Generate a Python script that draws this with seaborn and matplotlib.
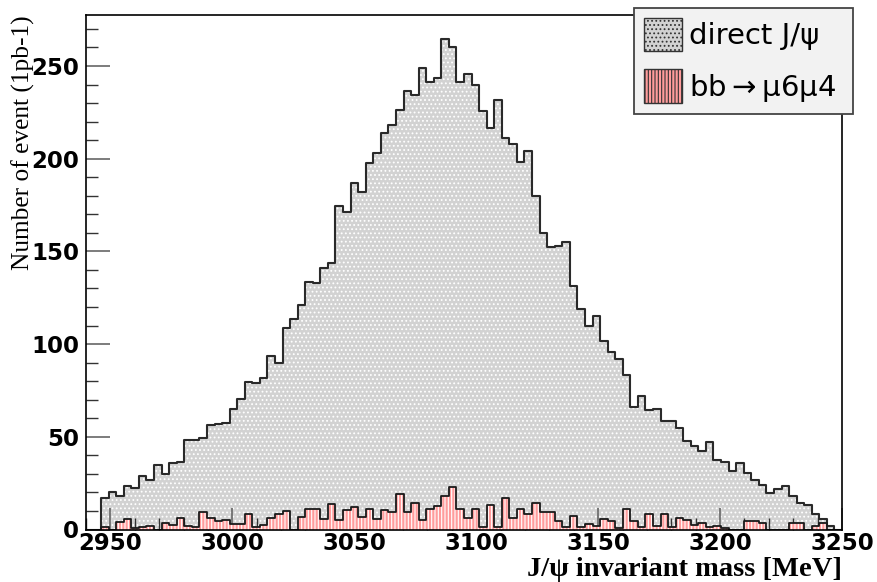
import numpy as np
import pandas as pd
import matplotlib
matplotlib.use("Agg")
import matplotlib.pyplot as plt
from matplotlib.patches import Patch
from matplotlib.ticker import MultipleLocator
import seaborn as sns

# ---------------- data ----------------
x_min, x_max, n_bins = 2940.0, 3250.0, 100

direct_jpsi = [
    0, 0, 17, 20, 18, 23.4, 22.2, 28.8, 26.7, 34.8,
    29.9, 35.7, 36.6, 48.2, 48.2, 49.2, 56.2, 56.7, 57.2, 64.8,
    70.2, 79.7, 78.8, 81.8, 93.7, 89.9, 108.5, 113.3, 120.9, 133.4,
    132.7, 141.1, 143.8, 174.7, 171.2, 187, 182.1, 197.7, 203.3, 214.1,
    218.4, 226.1, 236.4, 234.6, 249, 241.2, 243.6, 264.3, 260, 241.2,
    245.8, 239.6, 225.6, 216.3, 231.4, 210.9, 207.7, 198, 204.4, 179.8,
    159.7, 152.5, 153, 155, 131.3, 118.9, 110, 114.9, 101.4, 95.7,
    92.1, 83.3, 66.2, 72.1, 64.4, 64.8, 58.7, 58.7, 54.7, 47.7,
    45, 42.5, 47.3, 37.5, 36.6, 31.5, 36, 30.6, 26.7, 24,
    19.5, 22, 23.4, 18.2, 14.1, 13.4, 8.2, 5.5, 1.9, 0,
]

bb_mu6mu4 = [
    0, 0, 1.2, 0, 4, 5.7, 1, 1.5, 2, 0,
    3.7, 2.6, 6.4, 2, 1.2, 9.3, 6.4, 4.8, 5.1, 3.1,
    3, 8.2, 1.5, 2.4, 6.4, 8.4, 10.2, 0, 6.9, 11,
    11, 5.7, 13.9, 4.9, 10.3, 12, 6.6, 11, 5.7, 10.5,
    9.6, 19.3, 9.3, 14.1, 5.1, 11, 12.5, 18.2, 22.9, 10.9,
    6.4, 11, 1.5, 13.2, 1.5, 16.8, 6, 11, 8.4, 14.1,
    9.3, 9.3, 4.6, 1.5, 7.3, 1.5, 2.8, 1.9, 5.5, 4.8,
    1, 11, 4.6, 1.2, 8.2, 2.1, 8.2, 1.5, 6.4, 5.1,
    2.4, 3.7, 1.2, 1.9, 1, 0, 0, 4.6, 4.6, 3.3,
    0, 0, 0, 3.7, 3.7, 0, 1.9, 3.3, 0, 0,
]

x_ticks = [2950, 3000, 3050, 3100, 3150, 3200, 3250]
y_ticks = [0, 50, 100, 150, 200, 250]
legend_labels = ["direct J/\u03c8", "bb$\\rightarrow$\u03bc6\u03bc4"]
x_label = "J/\u03c8 invariant mass [MeV]"
y_label = "Number of event (1pb-1)"

edges = [float(e) for e in np.linspace(x_min, x_max, n_bins + 1)]
centers = [0.5 * (a + b) for a, b in zip(edges[:-1], edges[1:])]
df = pd.DataFrame({"mass": centers, "direct": direct_jpsi, "bb": bb_mu6mu4})

# ---------------- style ----------------
sns.set_theme(style="white")
plt.rcParams["font.family"] = ["DejaVu Sans"]
plt.rcParams["mathtext.fontset"] = "dejavusans"
plt.rcParams["hatch.linewidth"] = 0.8

fig = plt.figure(figsize=(8.78, 5.82), dpi=100)
ax = fig.add_axes([86 / 878, 1 - 529.5 / 582, 756 / 878, 514.5 / 582])
ax.set_facecolor("white")
ax.set_axisbelow(True)

gray_face = "#d2d2d2"
gray_hatch = "#333333"
red_face = "#ff9c9c"
red_hatch = "#e81010"

# gray (direct J/psi) fill with dot pattern
plt.rcParams["hatch.color"] = gray_hatch
sns.histplot(data=df, x="mass", weights="direct", bins=edges, element="step",
             fill=True, facecolor=gray_face, edgecolor="none", hatch="....",
             linewidth=0, alpha=1, ax=ax, zorder=0.3)
sns.histplot(data=df, x="mass", weights="direct", bins=edges, element="step",
             fill=False, color="#2a2a2a", linewidth=1.5, ax=ax, zorder=2)

# red (bb -> mu6 mu4) fill with line pattern
plt.rcParams["hatch.color"] = red_hatch
sns.histplot(data=df, x="mass", weights="bb", bins=edges, element="step",
             fill=True, facecolor=red_face, edgecolor="none", hatch="|||||",
             linewidth=0, alpha=1, ax=ax, zorder=1.2)
sns.histplot(data=df, x="mass", weights="bb", bins=edges, element="step",
             fill=False, color="#1a1a1a", linewidth=1.3, ax=ax, zorder=2.1)

# ---------------- axes ----------------
ax.set_xlim(x_min, x_max)
ax.set_ylim(0, 277.5)
ax.set_xticks(x_ticks)
ax.set_yticks(y_ticks)
ax.xaxis.set_minor_locator(MultipleLocator(10))
ax.yaxis.set_minor_locator(MultipleLocator(10))
ax.tick_params(axis="both", which="both", left=True, bottom=True,
               top=False, right=False, direction="in")
ax.tick_params(axis="both", which="major", length=16, width=1.2,
               color="#666666", labelsize=16.5, labelcolor="black", pad=2)
ax.tick_params(axis="both", which="minor", length=8.5, width=1.0,
               color="#333333")
ax.tick_params(axis="y", which="major", length=17, pad=5)
for lab in ax.get_xticklabels() + ax.get_yticklabels():
    lab.set_fontweight("bold")
    lab.set_family(["DejaVu Sans"])
for sp in ax.spines.values():
    sp.set_color("black")
    sp.set_linewidth(1.2)

ax.set_xlabel(x_label, fontsize=20.5, fontweight="bold", color="black",
              family=["Liberation Serif", "DejaVu Serif"], loc="right")
ax.xaxis.set_label_coords(1.0, -0.053)
ax.set_ylabel(y_label, fontsize=18.3, color="black",
              family=["Liberation Serif", "DejaVu Serif"], loc="top")
ax.yaxis.set_label_coords(-0.068, 1.0)

# ---------------- legend ----------------
plt.rcParams["hatch.color"] = gray_hatch
h1 = Patch(facecolor=gray_face, edgecolor="#333333", hatch="....", linewidth=1.0)
plt.rcParams["hatch.color"] = red_hatch
h2 = Patch(facecolor=red_face, edgecolor="#333333", hatch="|||||", linewidth=1.0)
leg_x0, leg_y1, leg_w, leg_h = 634 / 878, 1 - 8 / 582, 219 / 878, 116 / 582
leg = fig.legend([h1, h2], legend_labels, loc="upper left",
                 bbox_to_anchor=(leg_x0, leg_y1 - leg_h, leg_w, leg_h),
                 mode="expand", fontsize=21, frameon=True, fancybox=False,
                 handlelength=1.3, handleheight=1.4, handletextpad=0.25,
                 labelspacing=0.62, borderpad=0.33, borderaxespad=0.0)
for t in leg.get_texts():
    t.set_color("black")
frame = leg.get_frame()
frame.set_facecolor("#f2f2f2")
frame.set_edgecolor("#444444")
frame.set_linewidth(1.3)
frame.set_alpha(1)

fig.savefig("out.png", dpi=100)
